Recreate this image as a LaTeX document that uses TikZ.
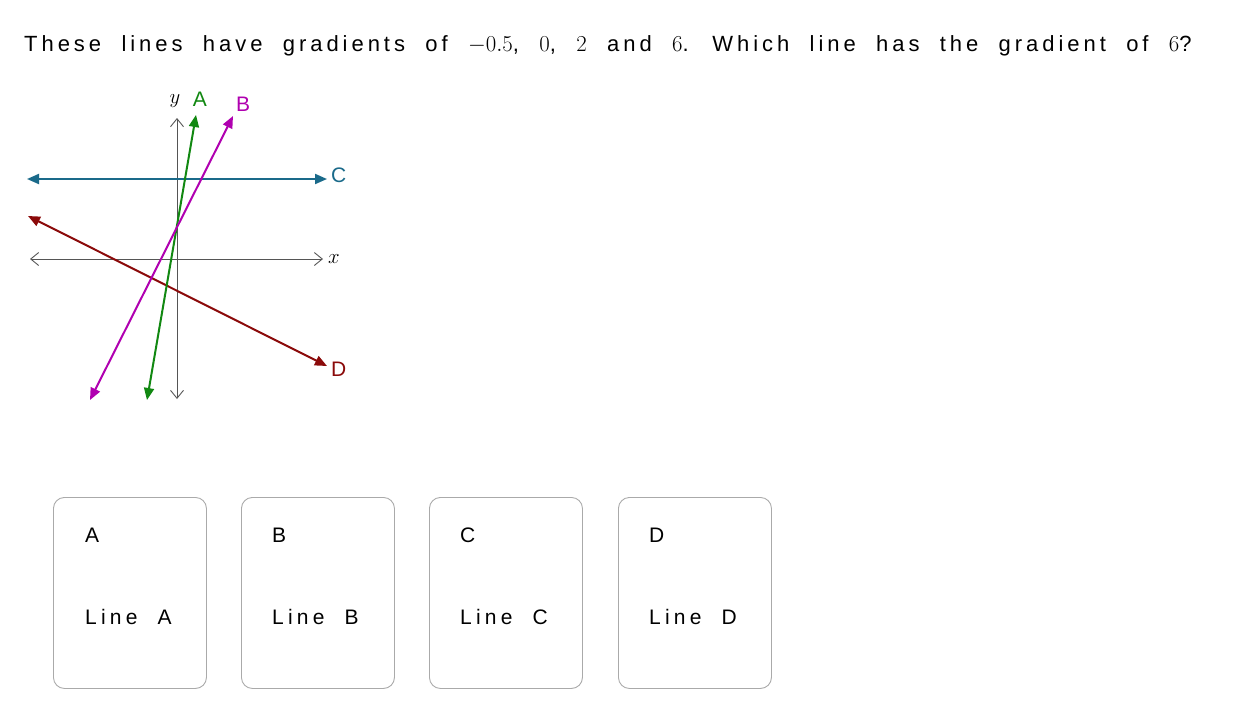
\documentclass[tikz,border=0pt]{standalone}
\usepackage{fontspec}
\setmainfont{Liberation Sans}
\newfontfamily\spaced[LetterSpace=18,WordSpace=2.02]{Liberation Sans}
\newfontfamily\boxspaced[LetterSpace=20,WordSpace=2.0]{Liberation Sans}
\usetikzlibrary{arrows.meta}
\definecolor{cA}{HTML}{118811}
\definecolor{cB}{HTML}{B000B0}
\definecolor{cC}{HTML}{1A6A8A}
\definecolor{cD}{HTML}{8B0A0A}
\definecolor{axis}{HTML}{555555}
\definecolor{boxline}{HTML}{AAAAAA}
\newcommand{\bm}[1]{\scalebox{1.1}{$#1$}}
\tikzset{
  axisline/.style={draw=axis, line width=0.9pt, {Straight Barb[length=8pt,width=13pt]}-{Straight Barb[length=8pt,width=13pt]}},
  gline/.style={line width=2pt, {Triangle[length=12pt,width=10pt]}-{Triangle[length=12pt,width=10pt]}},
  lbl/.style={font=\fontsize{21}{24}\selectfont, inner sep=0pt},
  choice/.style={draw=boxline, line width=0.9pt, rounded corners=11pt, minimum width=153pt, minimum height=191pt, anchor=north west, inner sep=0pt},
  ctext/.style={font=\boxspaced\fontsize{21}{24}\selectfont, anchor=west, inner sep=0pt},
}
\begin{document}
\begin{tikzpicture}[x=1pt,y=-1pt]
\useasboundingbox (0,0) rectangle (1246,721);
\fill[white] (0,0) rectangle (1246,721);
\node[anchor=west, inner sep=0pt, font=\spaced\fontsize{22}{26}\selectfont] (q) at (24,46)
  {These lines have gradients of \bm{-0.5}, \bm{0}, \bm{2} and \bm{6}. Which line has the gradient of \bm{6}?};
% axes
\coordinate (xl) at (30,259); \coordinate (xr) at (323,259);
\coordinate (yt) at (177,118); \coordinate (yb) at (177,399);
\draw[axisline] (xl) -- (xr);
\draw[axisline] (yb) -- (yt);
\node[font=\fontsize{22}{24}\selectfont, anchor=west, inner sep=0pt] (xlab) at (328,259) {$x$};
\node[font=\fontsize{22}{24}\selectfont, inner sep=0pt] (ylab) at (175,101) {$y$};
% lines
\coordinate (c1) at (27,179); \coordinate (c2) at (327,179);
\draw[gline, cC] (c1) -- (c2);
\node[lbl, text=cC, anchor=west] (lC) at (331,175) {C};
\coordinate (d1) at (28,216); \coordinate (d2) at (327,366);
\draw[gline, cD] (d1) -- (d2);
\node[lbl, text=cD, anchor=west] (lD) at (331,369) {D};
\coordinate (a1) at (147,400); \coordinate (a2) at (196,115);
\draw[gline, cA] (a1) -- (a2);
\node[lbl, text=cA] (lA) at (200,99) {A};
\coordinate (b1) at (90,400); \coordinate (b2) at (233,116);
\draw[gline, cB] (b1) -- (b2);
\node[lbl, text=cB] (lB) at (243,104) {B};
% choices
\node[choice] (bA) at (53,497) {};
\node[choice] (bB) at (241,497) {};
\node[choice] (bC) at (429,497) {};
\node[choice] (bD) at (618,497) {};
\node[ctext] (tA) at (85,535) {A};
\node[ctext] (tB) at (272,535) {B};
\node[ctext] (tC) at (460,535) {C};
\node[ctext] (tD) at (649,535) {D};
\node[ctext] (sA) at (85,617) {Line A};
\node[ctext] (sB) at (272,617) {Line B};
\node[ctext] (sC) at (460,617) {Line C};
\node[ctext] (sD) at (649,617) {Line D};
\end{tikzpicture}
\end{document}
